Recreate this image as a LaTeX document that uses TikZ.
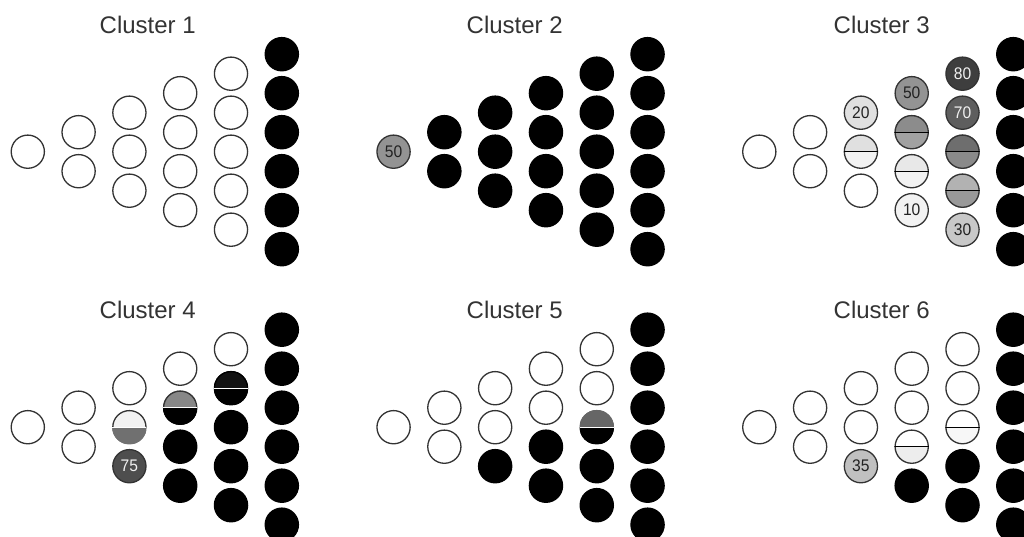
\documentclass[tikz,border=0pt]{standalone}
\usepackage{fontspec}
\setmainfont{Liberation Sans}
\newfontfamily\numfam[FakeStretch=0.93]{Liberation Sans}
\definecolor{sg}{HTML}{333333}
\definecolor{tg}{HTML}{333333}
\definecolor{numtext}{HTML}{222222}
\definecolor{lighttext}{HTML}{F0F0F0}
\definecolor{c10}{HTML}{F2F2F2}
\definecolor{c20}{HTML}{E0E0E0}
\definecolor{c30}{HTML}{C8C8C8}
\definecolor{c35}{HTML}{C0C0C0}
\definecolor{c50}{HTML}{939393}
\definecolor{c70}{HTML}{5E5E5E}
\definecolor{c75}{HTML}{4E4E4E}
\definecolor{c80}{HTML}{3E3E3E}
\newcommand\halfpic[5]{%
  \fill[#1] (path picture bounding box.north west) rectangle (path picture bounding box.east);
  \fill[#2] (path picture bounding box.west) rectangle (path picture bounding box.south east);
  \draw[#3,line width=2.6pt] (path picture bounding box.east) arc[start angle=0,end angle=180,radius=17.25pt];
  \draw[#4,line width=2.6pt] (path picture bounding box.west) arc[start angle=180,end angle=360,radius=17.25pt];
  \draw[#5,line width=1.3pt] (path picture bounding box.west) -- (path picture bounding box.east);
}
\tikzset{
  ball/.style={circle, inner sep=0pt, outer sep=0pt, minimum size=33.2pt, line width=1.3pt,
    font=\numfam\fontsize{16.8}{16.8}\selectfont, text=numtext},
  W/.style={ball, draw=sg, fill=white, node contents={}},
  K/.style={ball, draw=black, fill=black, node contents={}},
  numb/.style n args={3}{ball, draw=sg, fill=#1, text=#2, node contents={#3}},
  n10/.style={numb={c10}{numtext}{10}},
  n20/.style={numb={c20}{numtext}{20}},
  n30/.style={numb={c30}{numtext}{30}},
  n35/.style={numb={c35}{numtext}{35}},
  n50/.style={numb={c50}{numtext}{50}},
  n70/.style={numb={c70}{lighttext}{70}},
  n75/.style={numb={c75}{lighttext}{75}},
  n80/.style={numb={c80}{lighttext}{80}},
  half/.style={circle, inner sep=0pt, outer sep=0pt, minimum size=34.5pt, node contents={}},
  h3a/.style={half, path picture={\halfpic{c20}{c10}{sg}{sg}{black}}},
  h3b/.style={half, path picture={\halfpic{black!45}{black!37}{sg}{sg}{black}}},
  h3c/.style={half, path picture={\halfpic{black!9}{c10}{sg}{sg}{black}}},
  h3d/.style={half, path picture={\halfpic{black!57}{black!46}{sg}{sg}{black}}},
  h3e/.style={half, path picture={\halfpic{black!30}{black!40}{sg}{sg}{black}}},
  h4a/.style={half, path picture={\halfpic{c10}{black!56}{sg}{black!56}{white}}},
  h4b/.style={half, path picture={\halfpic{black!47}{black}{sg}{black}{white}}},
  h4c/.style={half, path picture={\halfpic{black!93}{black}{black}{black}{white}}},
  h5a/.style={half, path picture={\halfpic{black!60}{black}{black!60}{black}{white}}},
  h6a/.style={half, path picture={\halfpic{white}{black!7}{sg}{sg}{black}}},
  h6b/.style={half, path picture={\halfpic{white}{black!3}{sg}{sg}{black}}},
  title/.style={anchor=base, text=tg, font=\fontsize{24}{24}\selectfont}
}
% #1 cluster row, #2 cluster column, #3 cluster id, #4 column, #5 list of styles
\newcommand\colm[5]{%
  \foreach \st [count=\rr] in {#5} {
    \node (n#3-#4-\rr) at ({27.8+365.75*#2+50.8*(#4-1)}, {537-(151.7+275.5*#1+39*(\rr-(#4+1)/2))}) [\st];
  }%
}
\begin{document}
\begin{tikzpicture}[x=1pt,y=1pt]
\useasboundingbox (0,0) rectangle (1024,537);
% titles
\node[title] (t1) at (147.7, 503.7) {Cluster 1};
\node[title] (t2) at (514.7, 503.7) {Cluster 2};
\node[title] (t3) at (881.7, 503.7) {Cluster 3};
\node[title] (t4) at (147.7, 218.7) {Cluster 4};
\node[title] (t5) at (514.7, 218.7) {Cluster 5};
\node[title] (t6) at (881.7, 218.7) {Cluster 6};
% cluster 1
\colm{0}{0}{1}{1}{W}
\colm{0}{0}{1}{2}{W,W}
\colm{0}{0}{1}{3}{W,W,W}
\colm{0}{0}{1}{4}{W,W,W,W}
\colm{0}{0}{1}{5}{W,W,W,W,W}
\colm{0}{0}{1}{6}{K,K,K,K,K,K}
% cluster 2
\colm{0}{1}{2}{1}{n50}
\colm{0}{1}{2}{2}{K,K}
\colm{0}{1}{2}{3}{K,K,K}
\colm{0}{1}{2}{4}{K,K,K,K}
\colm{0}{1}{2}{5}{K,K,K,K,K}
\colm{0}{1}{2}{6}{K,K,K,K,K,K}
% cluster 3
\colm{0}{2}{3}{1}{W}
\colm{0}{2}{3}{2}{W,W}
\colm{0}{2}{3}{3}{n20,h3a,W}
\colm{0}{2}{3}{4}{n50,h3b,h3c,n10}
\colm{0}{2}{3}{5}{n80,n70,h3d,h3e,n30}
\colm{0}{2}{3}{6}{K,K,K,K,K,K}
% cluster 4
\colm{1}{0}{4}{1}{W}
\colm{1}{0}{4}{2}{W,W}
\colm{1}{0}{4}{3}{W,h4a,n75}
\colm{1}{0}{4}{4}{W,h4b,K,K}
\colm{1}{0}{4}{5}{W,h4c,K,K,K}
\colm{1}{0}{4}{6}{K,K,K,K,K,K}
% cluster 5
\colm{1}{1}{5}{1}{W}
\colm{1}{1}{5}{2}{W,W}
\colm{1}{1}{5}{3}{W,W,K}
\colm{1}{1}{5}{4}{W,W,K,K}
\colm{1}{1}{5}{5}{W,W,h5a,K,K}
\colm{1}{1}{5}{6}{K,K,K,K,K,K}
% cluster 6
\colm{1}{2}{6}{1}{W}
\colm{1}{2}{6}{2}{W,W}
\colm{1}{2}{6}{3}{W,W,n35}
\colm{1}{2}{6}{4}{W,W,h6a,K}
\colm{1}{2}{6}{5}{W,W,h6b,K,K}
\colm{1}{2}{6}{6}{K,K,K,K,K,K}
\end{tikzpicture}
\end{document}
